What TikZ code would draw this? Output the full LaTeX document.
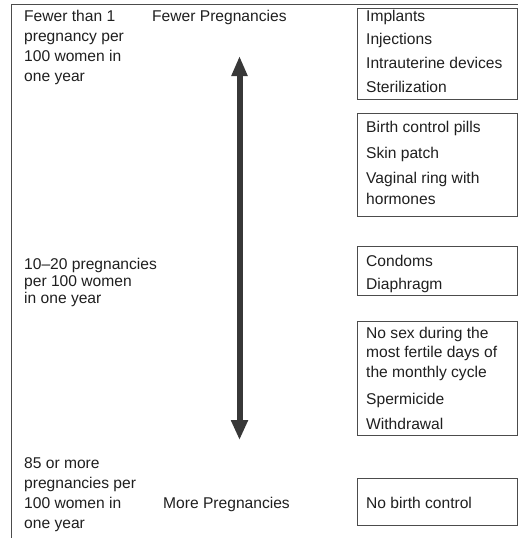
\documentclass[tikz,border=0pt]{standalone}
\usepackage{fontspec}
\setmainfont{Liberation Sans}
\usetikzlibrary{arrows.meta}
\newcommand\mlines[2]{\vtop{\baselineskip=#1\relax\lineskiplimit=-100pt\halign{##\hfil\cr#2\crcr}}}
\tikzset{
  txt/.style={anchor=base west, inner sep=0pt, text=black!88, font=\fontsize{15.6}{20}\selectfont},
  frameline/.style={draw=black!70, line width=0.9pt},
  methodbox/.style={draw=black!70, line width=0.9pt, anchor=north west, inner sep=0pt, minimum width=160pt},
  bigarrow/.style={draw=black!78, line width=6pt, {Triangle[length=20pt,width=15pt]}-{Triangle[length=20pt,width=16pt]}}
}
\begin{document}
\begin{tikzpicture}[x=1pt,y=-1pt]
\useasboundingbox (0,0) rectangle (525,538);
% frame
\coordinate (fbl) at (11,538);
\coordinate (ftl) at (11,4.5);
\coordinate (ftr) at (518,4.5);
\draw[frameline] (fbl) -- (ftl) -- (ftr);
% boxes
\node[methodbox, minimum height=91pt] (b1) at (357,8) {};
\node[methodbox, minimum height=103pt] (b2) at (357,113) {};
\node[methodbox, minimum height=49pt] (b3) at (357,246) {};
\node[methodbox, minimum height=114pt] (b4) at (357,321) {};
\node[methodbox, minimum height=47pt] (b5) at (357,478) {};
% arrow
\coordinate (atop) at (239.5,56);
\coordinate (abot) at (239.5,440);
\draw[bigarrow] (atop) -- (abot);
% left column
\node[txt] (l1) at (24,21) {\mlines{20.3pt}{Fewer than 1\cr pregnancy per\cr 100 women in\cr one year}};
\node[txt] (l2) at (24,269) {\mlines{17pt}{10–20 pregnancies\cr per 100 women\cr in one year}};
\node[txt] (l3) at (24,468) {\mlines{20pt}{85 or more\cr pregnancies per\cr 100 women in\cr one year}};
% middle
\node[txt] (fewer) at (152,21) {Fewer Pregnancies};
\node[txt] (more) at (163,508) {More Pregnancies};
% box texts
\node[txt] (m1) at (366,21) {\mlines{23.7pt}{Implants\cr Injections\cr Intrauterine devices\cr Sterilization}};
\node[txt] (m2a) at (366,132) {Birth control pills};
\node[txt] (m2b) at (366,158) {Skin patch};
\node[txt] (m2c) at (366,183) {\mlines{21pt}{Vaginal ring with\cr hormones}};
\node[txt] (m3a) at (366,266) {Condoms};
\node[txt] (m3b) at (366,289) {Diaphragm};
\node[txt] (m4a) at (366,338) {\mlines{19.5pt}{No sex during the\cr most fertile days of\cr the monthly cycle}};
\node[txt] (m4b) at (366,404) {Spermicide};
\node[txt] (m4c) at (366,429) {Withdrawal};
\node[txt] (m5) at (366,508) {No birth control};
\end{tikzpicture}
\end{document}
